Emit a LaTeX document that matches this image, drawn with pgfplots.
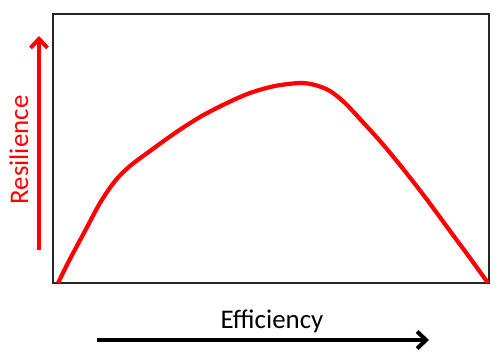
\documentclass[border=0pt]{standalone}
\usepackage{pgfplots}
\pgfplotsset{compat=1.18}
\usepackage{fontspec}
\setmainfont{Carlito}
\usetikzlibrary{arrows.meta}
\begin{document}
\begin{tikzpicture}[x=1bp,y=1bp]
\useasboundingbox (0,0) rectangle (500,356);
\begin{axis}[
  at={(53bp,73bp)}, anchor=south west,
  width=436bp, height=269bp, scale only axis,
  xmin=53, xmax=489, ymin=0, ymax=269,
  xtick=\empty, ytick=\empty,
  axis line style={line width=2.2bp, black!85},
  clip=false,
]
\addplot[red, line width=4.2bp, smooth] coordinates {
(58,0) (70,24) (85,52) (100,80) (115,102) (130,117) (150,132) (175,150) (200,166) (225,179) (250,190) (275,197) (300,200) (315,198) (330,192) (345,180) (360,164) (380,142) (400,118) (425,86) (450,52) (470,25) (488,0)
};
\end{axis}
\draw[red, line width=4bp, -{Straight Barb[length=9bp,width=17bp,line width=4bp]}] (39,106) -- (39,320);
\draw[black, line width=4bp, -{Straight Barb[length=9bp,width=17bp,line width=4bp]}] (97,16) -- (429,16);
\node[anchor=base, font=\fontsize{27}{30}\selectfont, inner sep=0pt] at (272,28) {Efficiency};
\node[anchor=base, rotate=90, red, font=\fontsize{27}{30}\selectfont, inner sep=0pt] at (28,206) {Resilience};
\end{tikzpicture}
\end{document}
